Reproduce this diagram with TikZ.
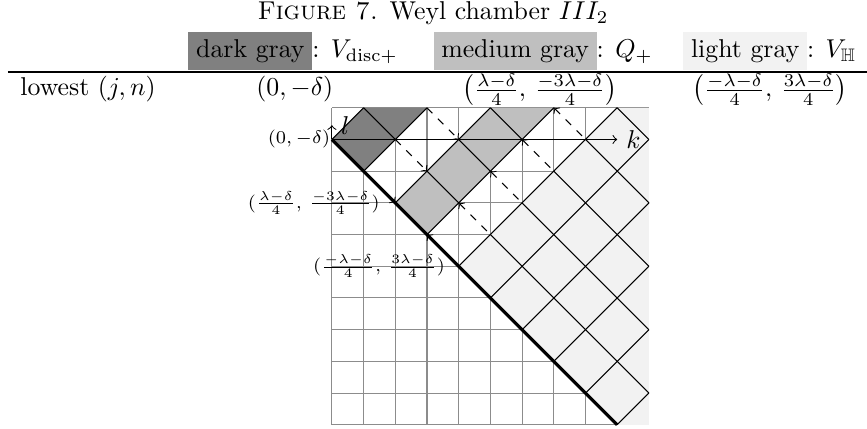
\documentclass[tikz,border=0pt]{standalone}
\usepackage{amsmath}
\usepackage{amssymb}
\usepackage{tikz}
\usetikzlibrary{positioning}

\begin{document}
\begin{tikzpicture}[x=12.29pt, y=12.29pt,
  lattice/.style={black, thin},
  pull/.style={dashed, ->},
  push/.style={dashed, <-},
  wall/.style={very thick},
  ptlabel/.style={font=\scriptsize}]

\useasboundingbox (-10.47,-9.13) rectangle (16.88,4.40);

\node[anchor=base] (title) at (3.19,3.77) {\textsc{Figure 7.} Weyl chamber $III_2$};

\node[anchor=base west, inner sep=0pt] (hdark) at (-4.54,2.59) {\colorbox{gray}{dark gray}: $V_{\mathrm{disc}+}$};
\node[anchor=base west, inner sep=0pt] (hmed) at (3.19,2.59) {\colorbox{lightgray}{medium gray}: $Q_+$};
\node[anchor=base west, inner sep=0pt] (hlight) at (11.07,2.59) {\colorbox{gray!10}{light gray}: $V_{\mathbb{H}}$};

\coordinate (rl) at (-10.22,2.13);
\coordinate (rr) at (16.88,2.13);
\draw[line width=1pt] (rl) -- (rr);

\node[anchor=base west, inner sep=0pt] (lowest) at (-9.84,1.38) {lowest $(j,n)$};
\node[anchor=base] (ldark) at (-1.17,1.38) {$(0,-\delta)$};
\node (lmed) at (6.56,1.56) {$\left(\frac{\lambda-\delta}{4},\,\frac{-3\lambda-\delta}{4}\right)$};
\node (llight) at (13.82,1.56) {$\left(\frac{-\lambda-\delta}{4},\,\frac{3\lambda-\delta}{4}\right)$};

\coordinate (o) at (0,0);
\coordinate (p) at (2,-2);
\coordinate (q) at (4,-4);
\coordinate (wend) at (9,-9);
\coordinate (kend) at (9,0);
\coordinate (lend) at (0,0.45);

\draw[gray!90, thin, step=12.29pt] (0,-9) grid (10,1);

\fill[gray] (o) -- (1,1) -- (3,1) -- (1,-1) -- cycle;
\fill[lightgray] (p) -- (5,1) -- (7,1) -- (3,-3) -- cycle;
\fill[gray!10] (q) -- (9,1) -- (10,1) -- (10,-9) -- (wend) -- cycle;

\draw[lattice] (o) -- (1,1) (1,-1) -- (3,1) (p) -- (5,1) (3,-3) -- (7,1)
  (q) -- (9,1) (5,-5) -- (10,0) (6,-6) -- (10,-2) (7,-7) -- (10,-4)
  (8,-8) -- (10,-6) (wend) -- (10,-8);
\draw[lattice] (1,1) -- (2,0) (3,-1) -- (4,-2) (5,-3) -- (10,-8)
  (4,0) -- (5,-1) (6,-2) -- (10,-6) (5,1) -- (6,0) (7,-1) -- (10,-4)
  (8,0) -- (10,-2) (9,1) -- (10,0);

\draw[pull] (1,-1) -- (p);
\draw[pull] (2,0) -- (3,-1);
\draw[pull] (3,1) -- (4,0);
\draw[push] (3,-3) -- (q);
\draw[push] (4,-2) -- (5,-3);
\draw[push] (5,-1) -- (6,-2);
\draw[push] (6,0) -- (7,-1);
\draw[push] (7,1) -- (8,0);

\draw[wall] (o) -- (wend);

\draw[->] (o) -- (kend) node[right] (klabel) {$k$};
\draw[->] (o) -- (lend) node[right] (llabel) {$l$};

\node[ptlabel, left=0pt of o, inner sep=0.5pt] (lo) {$(0,-\delta)$};
\node[ptlabel, left=2.5pt of p] (lp) {$(\frac{\lambda-\delta}{4},\,\frac{-3\lambda-\delta}{4})$};
\node[ptlabel, left=1.8pt of q] (lq) {$(\frac{-\lambda-\delta}{4},\,\frac{3\lambda-\delta}{4})$};

\end{tikzpicture}
\end{document}
